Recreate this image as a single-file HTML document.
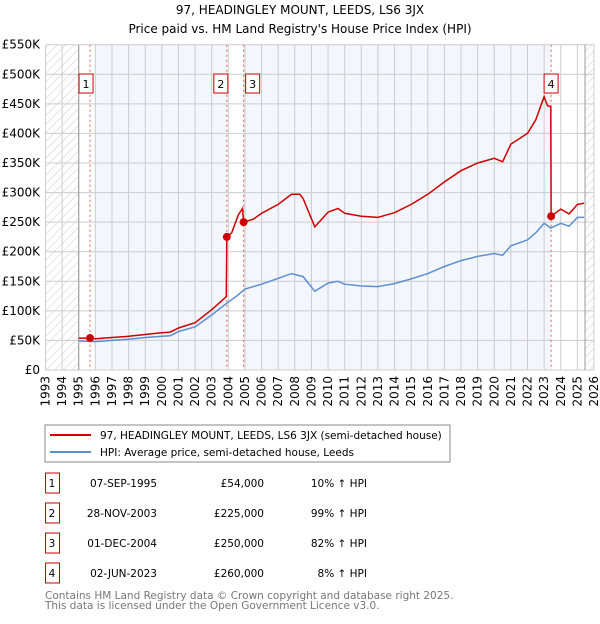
<!DOCTYPE html>
<html><head><meta charset="utf-8"><style>
body{margin:0;background:#fff;font-family:"DejaVu Sans","Liberation Sans",sans-serif;}
svg text{font-family:"DejaVu Sans","Liberation Sans",sans-serif;}
</style></head><body>
<svg id="c" width="600" height="620" xmlns="http://www.w3.org/2000/svg">
<defs><pattern id="hatch" width="6" height="6" patternUnits="userSpaceOnUse" patternTransform="rotate(45)"><line x1="0" y1="0" x2="0" y2="6" stroke="#ccc" stroke-width="1"/></pattern></defs>
<text x="300" y="14" text-anchor="middle" font-size="12">97, HEADINGLEY MOUNT, LEEDS, LS6 3JX</text>
<text x="300" y="33" text-anchor="middle" font-size="12">Price paid vs. HM Land Registry's House Price Index (HPI)</text>
<g id="plot"></g>
<rect x="45" y="425" width="405" height="37" fill="#fff" stroke="#888"/>
<line x1="50" y1="435" x2="91" y2="435" stroke="#cc0000" stroke-width="2"/>
<text x="100" y="439" font-size="10.5">97, HEADINGLEY MOUNT, LEEDS, LS6 3JX (semi-detached house)</text>
<line x1="50" y1="452" x2="91" y2="452" stroke="#5b8fd4" stroke-width="2"/>
<text x="100" y="456" font-size="10.5">HPI: Average price, semi-detached house, Leeds</text>
<g id="table"></g>
<text x="45" y="599" font-size="10.5" fill="#777">Contains HM Land Registry data © Crown copyright and database right 2025.</text>
<text x="45" y="609" font-size="10.5" fill="#777">This data is licensed under the Open Government Licence v3.0.</text>
</svg>
<script>
const hpiYears=[1995,1996,1997,1998,1999,2000,2000.5,2001,2002,2003,2003.9,2004.5,2005,2006,2007,2007.8,2008.5,2009.2,2010,2010.6,2011,2012,2013,2014,2015,2016,2017,2018,2019,2020,2020.5,2021,2022,2022.5,2023,2023.4,2024,2024.5,2025,2025.4];
const hpiValues=[49,48,50,52,55,57,58,65,73,93,113,125,137,145,155,163,158,133,147,150,145,142,141,146,154,163,175,185,192,197,194,210,220,232,248,240,248,243,258,258];
const priceYears=[1995,1995.68,1996,1997,1998,1999,2000,2000.5,2001,2002,2003,2003.88,2003.91,2004.2,2004.6,2004.85,2004.92,2005.5,2006,2007,2007.8,2008.3,2008.5,2009.2,2010,2010.6,2011,2012,2013,2014,2015,2016,2017,2018,2019,2020,2020.5,2021,2022,2022.5,2023,2023.2,2023.4,2023.42,2024,2024.5,2025,2025.4];
const priceValues=[54,54,53,55,57,60,63,64,71,80,102,124,225,232,262,273,250,255,265,280,297,297,290,242,267,273,265,260,258,266,280,297,318,337,350,358,352,382,400,423,462,447,445,260,272,264,280,282];
const saleLabels=["1","2","3","4"];
const saleYears=[1995.68,2003.91,2004.92,2023.42];
const salePrices=[54,225,250,260];
const saleDates=["07-SEP-1995","28-NOV-2003","01-DEC-2004","02-JUN-2023"];
const salePriceText=["£54,000","£225,000","£250,000","£260,000"];
const saleHpiText=["10% ↑ HPI","99% ↑ HPI","82% ↑ HPI","8% ↑ HPI"];
const yTicks=[0,50,100,150,200,250,300,350,400,450,500,550];
const yTickLabels=["£0","£50K","£100K","£150K","£200K","£250K","£300K","£350K","£400K","£450K","£500K","£550K"];
const xTicks=[1993,1994,1995,1996,1997,1998,1999,2000,2001,2002,2003,2004,2005,2006,2007,2008,2009,2010,2011,2012,2013,2014,2015,2016,2017,2018,2019,2020,2021,2022,2023,2024,2025,2026];

const NS="http://www.w3.org/2000/svg";
const X0=45.5,X1=594,Y0=370,Y1=44.7;
const xs=y=>X0+(y-1993)/(2026-1993)*(X1-X0);
const ys=v=>Y0-v/550*(Y0-Y1);
const plot=document.getElementById('plot');
function mk(tag,attrs,parent){const e=document.createElementNS(NS,tag);for(const k in attrs)e.setAttribute(k,attrs[k]);(parent||plot).appendChild(e);return e;}

let e=mk('rect',{x:X0,y:Y1,width:X1-X0,height:Y0-Y1,fill:'#fff'});


e=mk('rect',{x:xs(1996),y:Y1,width:xs(saleYears[1])-xs(1996),height:Y0-Y1,fill:'#f3f6fd'});


e=mk('rect',{x:xs(saleYears[2]),y:Y1,width:xs(saleYears[3])-xs(saleYears[2]),height:Y0-Y1,fill:'#f3f6fd'});


e=mk('rect',{x:X0,y:Y1,width:xs(1995)-X0,height:Y0-Y1,fill:'url(#hatch)'});


e=mk('rect',{x:xs(2025.46),y:Y1,width:X1-xs(2025.46),height:Y0-Y1,fill:'url(#hatch)'});


yTicks.forEach((t,i)=>{
  let g=mk('line',{x1:X0,x2:X1,y1:ys(t),y2:ys(t),stroke:'#ccc','stroke-width':1});
  
  
  let tx=mk('text',{x:40,y:ys(t)+4,'text-anchor':'end','font-size':12});
  tx.textContent=yTickLabels[i];
  
  
});
xTicks.forEach(t=>{
  let g=mk('line',{x1:xs(t),x2:xs(t),y1:Y1,y2:Y0,stroke:'#ccc','stroke-width':1});
  
  
  let tx=mk('text',{x:0,y:0,'font-size':12,'text-anchor':'end',transform:`translate(${xs(t)+4},${Y0+6}) rotate(-90)`});
  tx.textContent=t;
  
  
});
e=mk('line',{x1:xs(1995),x2:xs(1995),y1:Y1,y2:Y0,stroke:'#999'});


e=mk('line',{x1:xs(2025.46),x2:xs(2025.46),y1:Y1,y2:Y0,stroke:'#999'});


saleYears.forEach((y,i)=>{
  let l=mk('line',{x1:xs(y),x2:xs(y),y1:Y1,y2:Y0,stroke:'#e06060','stroke-dasharray':'2,3','stroke-width':1});
  
  
});
e=mk('path',{d:hpiYears.map((y,i)=>(i?'L':'M')+xs(y).toFixed(1)+','+ys(hpiValues[i]).toFixed(1)).join(''),fill:'none',stroke:'#5b8fd4','stroke-width':1.5});


e=mk('path',{d:priceYears.map((y,i)=>(i?'L':'M')+xs(y).toFixed(1)+','+ys(priceValues[i]).toFixed(1)).join(''),fill:'none',stroke:'#cc0000','stroke-width':1.5});


saleYears.forEach((y,i)=>{
  let c=mk('circle',{cx:xs(y),cy:ys(salePrices[i]),r:4,fill:'#cc0000'});
  
  
  const bx=i===1?xs(y)-13:(i===2?xs(y)+2:xs(y)-7);
  const bxx=i===0?xs(y)-11:bx;
  let r=mk('rect',{x:bxx,y:74,width:14,height:19,fill:'#fff',stroke:'#cc0000'});
  
  
  let t=mk('text',{x:bxx+7,y:88,'text-anchor':'middle','font-size':11});
  t.textContent=saleLabels[i];
  
  
});
const tbl=document.getElementById('table');
saleLabels.forEach((s,i)=>{
  const cy=483+i*30;
  let r=mk('rect',{x:45.5,y:cy-10,width:14,height:20,fill:'#fff',stroke:'#cc0000'},tbl);
  
  
  const cols=[[52,s,'middle'],[157,saleDates[i],'end'],[264,salePriceText[i],'end'],[367,saleHpiText[i],'end']];
  const names=['table-index','table-date','table-price','table-hpi-change'];
  cols.forEach((c,j)=>{
    let t=mk('text',{x:c[0],y:cy+4,'text-anchor':c[2],'font-size':10.5},tbl);
    t.textContent=c[1];
    
    
  });
});
</script>
</body></html>
